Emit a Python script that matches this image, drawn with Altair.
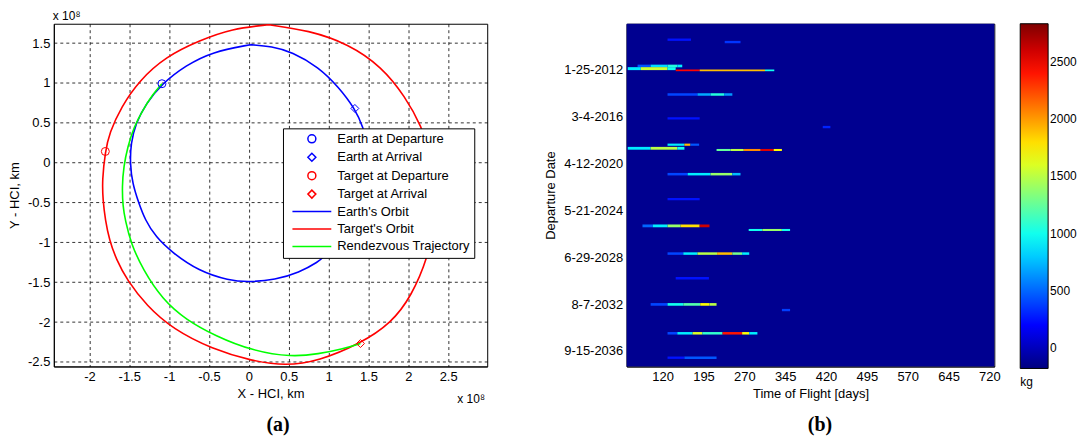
import altair as alt
import pandas as pd

FONT = "Liberation Sans"

# ---------------- Panel (a): orbits (units of 1e8 km) ----------------
earth_x = [0.02, -0.46, -0.79, -1.09, -1.29, -1.42, -1.48, -1.49, -1.46, -1.38, -1.30, -1.17, -0.96,
           -0.63, -0.25, 0.00, 0.33, 0.63, 0.88, 0.94, 1.15, 1.33, 1.45, 1.50, 1.48, 1.44, 1.33, 1.125,
           0.875, 0.54, 0.29, 0.02]
earth_y = [1.48, 1.39, 1.22, 0.99, 0.74, 0.49, 0.24, -0.01, -0.26, -0.51, -0.72, -0.93, -1.13,
           -1.36, -1.48, -1.50, -1.47, -1.38, -1.24, -1.18, -0.98, -0.70, -0.35, 0.00, 0.25, 0.43, 0.68, 0.95,
           1.20, 1.39, 1.46, 1.48]
target_x = [0.25, -0.21, -0.625, -1.04, -1.375, -1.60, -1.75, -1.80, -1.84, -1.83, -1.80, -1.75, -1.66,
            -1.53, -1.28, -0.95, -0.46, 0.04, 0.46, 0.875, 1.40, 1.79, 2.04, 2.25, 2.33, 2.34, 2.28, 2.17,
            1.96, 1.67, 1.25, 0.75, 0.25]
target_y = [1.73, 1.68, 1.53, 1.33, 1.03, 0.70, 0.37, 0.14, -0.22, -0.47, -0.72, -0.97, -1.22,
            -1.47, -1.80, -2.09, -2.34, -2.49, -2.55, -2.49, -2.27, -2.01, -1.675, -1.18, -0.75, -0.30, 0.10, 0.45,
            0.83, 1.20, 1.49, 1.66, 1.73]
traj_x = [-1.09, -1.21, -1.33, -1.44, -1.52, -1.57, -1.59, -1.58, -1.55, -1.48, -1.33, -1.08, -0.79,
          -0.42, 0.04, 0.54, 0.875, 1.17, 1.40]
traj_y = [0.99, 0.85, 0.66, 0.45, 0.20, -0.05, -0.30, -0.55, -0.72, -1.01, -1.34, -1.72, -1.97,
          -2.175, -2.36, -2.44, -2.40, -2.34, -2.27]

marker_names = ["Earth at Departure", "Earth at Arrival", "Target at Departure", "Target at Arrival"]
marker_x = [-1.09, 1.33, -1.80, 1.40]
marker_y = [0.99, 0.68, 0.14, -2.27]
line_names = ["Earth's Orbit", "Target's Orbit", "Rendezvous Trajectory"]
legend_names = marker_names + line_names
legend_colors = ["#0000FF", "#0000FF", "#FF0000", "#FF0000", "#0000FF", "#FF0000", "#00FF00"]
LINE_SYMBOL = "M-4.875,0L4.875,0"
legend_shapes = ["circle", "diamond", "circle", "diamond", LINE_SYMBOL, LINE_SYMBOL, LINE_SYMBOL]

x_ticks_a = [-2, -1.5, -1, -0.5, 0, 0.5, 1, 1.5, 2, 2.5]
y_ticks_a = [-2.5, -2, -1.5, -1, -0.5, 0, 0.5, 1, 1.5]

# ---------------- Panel (b): mass heatmap ----------------
tof_ticks = [120, 195, 270, 345, 420, 495, 570, 645, 720]
dep_tick_days = [0, 1500, 3000, 4500, 6000, 7500, 9000]
dep_labels = ["1-25-2012", "3-4-2016", "4-12-2020", "5-21-2024", "6-29-2028", "8-7-2032", "9-15-2036"]

row_dep = [-956, -880, -115, -30, 25, 797, 1562, 1839, 2403, 2518, 2572, 3346, 4143, 5000, 5131,
           5886, 6674, 7512, 7693, 8436, 9217]
row_h = [75, 75, 85, 95, 55, 80, 75, 75, 70, 90, 65, 80, 75, 90, 65, 80, 75, 85, 75, 80, 75]

seg_row = [0, 1,
           2, 2, 2, 2,
           3, 3, 3,
           4, 4, 4,
           5, 5, 5, 5,
           6, 7,
           8, 8, 8,
           9, 9, 9,
           10, 10, 10, 10, 10,
           11, 11, 11, 11,
           12,
           13, 13, 13, 13, 13,
           14, 14, 14,
           15, 15, 15, 15, 15, 15,
           16,
           17, 17, 17, 17, 17,
           18,
           19, 19, 19, 19, 19, 19, 19,
           20, 20]
seg_t0 = [129, 234,
          74, 98, 129, 147,
          56, 80, 129,
          144, 188, 308,
          129, 184, 208, 233,
          129, 414,
          129, 160, 171,
          56, 98, 147,
          219, 245, 269, 300, 324,
          129, 166, 208, 248,
          129,
          83, 102, 129, 153, 188,
          278, 303, 339,
          129, 158, 184, 220, 248, 266,
          144,
          98, 129, 158, 189, 206,
          339,
          129, 147, 175, 193, 230, 266, 279,
          129, 160]
seg_t1 = [172, 263,
          98, 129, 147, 156,
          80, 129, 144,
          188, 308, 325,
          184, 208, 233, 248,
          188, 428,
          160, 171, 187,
          98, 147, 160,
          245, 269, 300, 324, 339,
          166, 208, 248, 263,
          188,
          102, 129, 153, 188, 206,
          303, 339, 354,
          158, 184, 220, 248, 266, 279,
          205,
          129, 158, 189, 206, 219,
          354,
          147, 175, 193, 230, 266, 279, 294,
          160, 219]
seg_kg = [250, 350,
          450, 850, 1050, 900,
          900, 1550, 1000,
          2450, 1900, 1000,
          400, 700, 1050, 650,
          250, 300,
          900, 1900, 450,
          900, 1500, 1000,
          1250, 1500, 2050, 2550, 1700,
          400, 900, 1400, 750,
          250,
          500, 900, 1400, 1800, 2600,
          1000, 1400, 1000,
          400, 900, 1500, 1900, 1300, 900,
          250,
          400, 1000, 1200, 1700, 1500,
          380,
          400, 900, 1600, 1100, 2400, 1700, 900,
          250, 450]

bg_kg = -130
tof_domain = [54, 729]
dep_domain = [-1466, 9497]
kg_stops = [-180, 197, 951, 1704, 2458, 2835]
jet_colors = ["#00007F", "#0000FF", "#00FFFF", "#FFFF00", "#FF0000", "#7F0000"]
cbar_values = [0, 500, 1000, 1500, 2000, 2500]

# ---------------- build panel (a) ----------------
orbit_df = pd.DataFrame({
    "series": [line_names[0]] * len(earth_x) + [line_names[1]] * len(target_x) + [line_names[2]] * len(traj_x),
    "i": list(range(len(earth_x))) + list(range(len(target_x))) + list(range(len(traj_x))),
    "x": earth_x + target_x + traj_x,
    "y": earth_y + target_y + traj_y,
})
marker_df = pd.DataFrame({"series": marker_names, "x": marker_x, "y": marker_y})

minus_expr = "datum.value < 0 ? '-' + format(-datum.value, '~g') : format(datum.value, '~g')"

xs_a = alt.Scale(domain=[-2.446, 2.99], nice=False, zero=False)
ys_a = alt.Scale(domain=[-2.5575, 1.7425], nice=False, zero=False)
x_axis_a = alt.Axis(values=x_ticks_a, grid=True, gridDash=[3, 3], gridColor="black", gridWidth=0.8,
                    gridOpacity=1, ticks=False, labelPadding=4, labelExpr=minus_expr,
                    title="X - HCI, km", titlePadding=4)
y_axis_a = alt.Axis(values=y_ticks_a, grid=True, gridDash=[3, 3], gridColor="black", gridWidth=0.8,
                    gridOpacity=1, ticks=False, labelPadding=4, labelExpr=minus_expr,
                    title="Y - HCI, km", titlePadding=6)

color_a = alt.Scale(domain=legend_names, range=legend_colors)
shape_a = alt.Scale(domain=legend_names, range=legend_shapes)
legend_a = alt.Legend(orient="none", legendX=230, legendY=105, title=None, fillColor="white",
                      strokeColor="black", padding=4, rowPadding=3.5, symbolSize=64, symbolOffset=18.5,
                      labelOffset=19, labelFontSize=13, labelFont=FONT, labelColor="black",
                      symbolStrokeWidth=1.5, symbolFillColor="transparent", labelLimit=300,
                      symbolType="circle")

lines = alt.Chart(orbit_df).mark_line(strokeWidth=1.6, interpolate="basis").encode(
    x=alt.X("x:Q", scale=xs_a, axis=x_axis_a),
    y=alt.Y("y:Q", scale=ys_a, axis=y_axis_a),
    color=alt.Color("series:N", scale=color_a, legend=legend_a),
    order=alt.Order("i:Q"),
)
markers = alt.Chart(marker_df).mark_point(filled=False, strokeWidth=1, opacity=1, size=64).encode(
    x=alt.X("x:Q", scale=xs_a),
    y=alt.Y("y:Q", scale=ys_a),
    color=alt.Color("series:N", scale=color_a, legend=legend_a),
    shape=alt.Shape("series:N", scale=shape_a, legend=legend_a),
)

exp_df = pd.DataFrame({"t": ["x 10\u2078"]})
exp_top = alt.Chart(exp_df).mark_text(align="left", baseline="alphabetic", font=FONT, fontSize=12,
                                      color="black").encode(text="t:N", x=alt.value(-1), y=alt.value(-4))
exp_bot = alt.Chart(exp_df).mark_text(align="left", baseline="alphabetic", font=FONT, fontSize=12,
                                      color="black").encode(text="t:N", x=alt.value(405), y=alt.value(381))
cap_a = alt.Chart(pd.DataFrame({"t": ["(a)"]})).mark_text(
    align="center", baseline="alphabetic", font="Liberation Serif", fontSize=20, fontWeight="bold",
    color="black").encode(text="t:N", x=alt.value(225), y=alt.value(409))

panel_a = alt.layer(lines, markers, exp_top, exp_bot, cap_a).properties(width=435, height=344)

# ---------------- build panel (b) ----------------
seg_df = pd.DataFrame({
    "t0": seg_t0, "t1": seg_t1, "kg": seg_kg,
    "y0": [row_dep[r] - row_h[r] / 2 for r in seg_row],
    "y1": [row_dep[r] + row_h[r] / 2 for r in seg_row],
})
bg_df = pd.DataFrame({"t0": [tof_domain[0]], "t1": [tof_domain[1]], "y0": [dep_domain[0]],
                      "y1": [dep_domain[1]], "kg": [bg_kg]})

label_list = "[" + ",".join("'" + s + "'" for s in dep_labels) + "]"
xs_b = alt.Scale(domain=tof_domain, nice=False, zero=False)
ys_b = alt.Scale(domain=dep_domain, nice=False, zero=False, reverse=True)
x_axis_b = alt.Axis(values=tof_ticks, grid=False, ticks=False, labelPadding=4,
                    title="Time of Flight [days]", titlePadding=4)
y_axis_b = alt.Axis(values=dep_tick_days, grid=False, ticks=False, labelPadding=4,
                    labelExpr=label_list + "[round(datum.value / 1500)]",
                    title="Departure Date", titlePadding=6)
color_b = alt.Scale(domain=kg_stops, range=jet_colors, interpolate="rgb")
legend_b = alt.Legend(orient="none", legendX=395, legendY=0, direction="vertical", gradientLength=346,
                      gradientThickness=28, values=cbar_values, format="d", title="kg",
                      titleOrient="bottom", titleAnchor="start", titleFontWeight="normal",
                      titleFontSize=12, titleFont=FONT, titleColor="black", labelFont=FONT,
                      labelFontSize=12, labelColor="black", labelOffset=2, gradientStrokeColor="black",
                      gradientStrokeWidth=1, titlePadding=8, padding=0)

bg = alt.Chart(bg_df).mark_rect(strokeWidth=0).encode(
    x=alt.X("t0:Q", scale=xs_b, axis=x_axis_b), x2="t1:Q",
    y=alt.Y("y0:Q", scale=ys_b, axis=y_axis_b), y2="y1:Q",
    color=alt.Color("kg:Q", scale=color_b, legend=legend_b),
)
segs = alt.Chart(seg_df).mark_rect(strokeWidth=0).encode(
    x=alt.X("t0:Q", scale=xs_b, axis=x_axis_b), x2="t1:Q",
    y=alt.Y("y0:Q", scale=ys_b, axis=y_axis_b), y2="y1:Q",
    color=alt.Color("kg:Q", scale=color_b, legend=legend_b),
)
cap_b = alt.Chart(pd.DataFrame({"t": ["(b)"]})).mark_text(
    align="center", baseline="alphabetic", font="Liberation Serif", fontSize=20, fontWeight="bold",
    color="black").encode(text="t:N", x=alt.value(194), y=alt.value(409))

panel_b = alt.layer(bg, segs, cap_b).properties(width=369, height=344)

chart = alt.hconcat(panel_a, panel_b, spacing=140, bounds="flush").resolve_scale(
    color="independent", shape="independent"
).resolve_legend(color="independent", shape="independent").properties(
    padding={"left": 0, "top": 0, "right": 0, "bottom": 0}
).configure_view(stroke="black", strokeWidth=1).configure_axis(
    labelFont=FONT, titleFont=FONT, labelFontSize=13, titleFontSize=13, titleFontWeight="normal",
    labelColor="black", titleColor="black", domainColor="black"
)

chart.save("out.html", embed_options={"renderer": "svg", "actions": False})
